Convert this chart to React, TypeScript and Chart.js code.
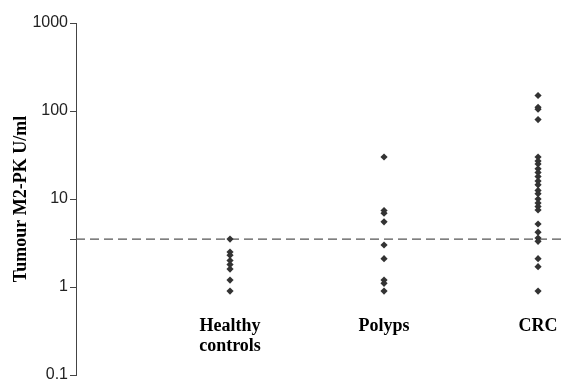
import React, { useEffect, useRef } from "react";
import { Chart, registerables } from "chart.js";

Chart.register(...registerables);

const categories: string[][] = [["Healthy", "controls"], ["Polyps"], ["CRC"]];
const healthyValues = [3.5, 2.5, 2.3, 2.0, 1.8, 1.6, 1.2, 0.9];
const polypsValues = [30, 7.4, 6.9, 5.5, 3.0, 2.1, 1.2, 1.1, 0.9];
const crcValues = [150, 110, 105, 80, 30, 27, 25, 22, 20, 18, 16, 14.5, 12.5, 11.5, 10, 9, 8.2, 7.5, 5.2, 4.2, 3.6, 3.3, 2.1, 1.7, 0.9];
const yTicks = [0.1, 1, 10, 100, 1000];
const cutoff = 3.5;
const yTitle = "Tumour M2-PK U/ml";

const X_MAX = 3.162;

export default function App() {
  const ref = useRef<HTMLCanvasElement | null>(null);
  useEffect(() => {
    if (!ref.current) return;
    const series = [healthyValues, polypsValues, crcValues];
    const pointColor = "#333333";
    const chart = new Chart(ref.current, {
      type: "scatter",
      data: {
        datasets: [
          ...series.map((vals, i) => ({
            label: categories[i].join(" "),
            data: vals.map((v) => ({ x: i + 1, y: v })),
            pointStyle: "rectRot" as const,
            pointRadius: 3.6,
            borderWidth: 0,
            backgroundColor: pointColor,
            borderColor: pointColor,
            showLine: false,
          })),
          {
            label: "cut-off",
            data: [
              { x: 0, y: cutoff },
              { x: X_MAX, y: cutoff },
            ],
            showLine: true,
            pointRadius: 0,
            borderColor: "#555",
            borderWidth: 1.4,
            borderDash: [9, 5],
          },
        ],
      },
      options: {
        animation: false,
        responsive: true,
        maintainAspectRatio: false,
        layout: { autoPadding: false, padding: { left: 0, top: 23, right: 0, bottom: 6 } },
        plugins: { legend: { display: false }, tooltip: { enabled: false } },
        scales: {
          x: {
            type: "linear",
            min: 0,
            max: X_MAX,
            position: { y: 0.5 } as any,
            border: { display: false },
            grid: { display: false, drawTicks: false },
            afterBuildTicks: (scale: any) => {
              scale.ticks = categories.map((_, i) => ({ value: i + 1 }));
            },
            afterFit: (scale: any) => {
              scale.paddingLeft = 0;
              scale.paddingRight = 0;
            },
            ticks: {
              autoSkip: false,
              maxRotation: 0,
              padding: 3,
              color: "#000",
              font: { family: "'Liberation Serif', 'Times New Roman', serif", size: 18, weight: "bold", lineHeight: 1.1 },
              callback: (v: any) => {
                const idx = Math.round(Number(v)) - 1;
                return categories[idx] ?? "";
              },
            },
          },
          y: {
            type: "logarithmic",
            min: 0.1,
            max: 1000,
            border: { display: true, color: "#444", width: 1 },
            grid: { display: true, drawOnChartArea: false, drawTicks: true, tickLength: 6, color: "#444" },
            afterBuildTicks: (scale: any) => {
              scale.ticks = [...yTicks, cutoff].map((v) => ({ value: v }));
            },
            afterFit: (scale: any) => {
              scale.width = 76;
              scale.paddingTop = 0;
              scale.paddingBottom = 0;
            },
            ticks: {
              padding: 2,
              color: "#222",
              font: { family: "'Liberation Sans', Arial, sans-serif", size: 16 },
              callback: (v: any) => (yTicks.includes(Number(v)) ? String(v) : ""),
            },
            title: {
              display: true,
              text: yTitle,
              color: "#000",
              padding: { top: 11, bottom: 0 },
              font: { family: "'Liberation Serif', 'Times New Roman', serif", size: 18, weight: "bold" },
            },
          },
        },
      },
    });
    return () => chart.destroy();
  }, []);
  return (
    <div style={{ position: "fixed", left: 0, top: 0, width: 563, height: 381 }}>
      <canvas ref={ref} />
    </div>
  );
}
